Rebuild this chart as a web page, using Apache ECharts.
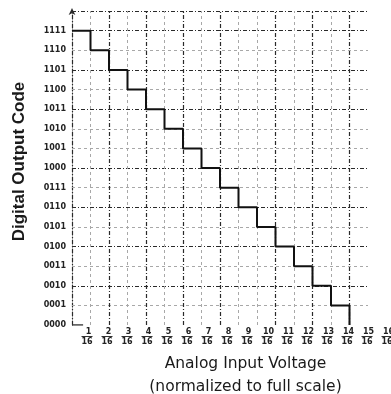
<!DOCTYPE html>
<html>
<head>
<meta charset="utf-8">
<script src="https://cdn.jsdelivr.net/npm/echarts@6/dist/echarts.min.js"></script>
<style>
  html, body { margin: 0; padding: 0; background: #fff; }
  #chart { width: 391px; height: 394px; }
</style>
</head>
<body>
<div id="chart"></div>
<script>
// staircase: output code held over each 1/16 input step
const inputSteps = [0, 1, 2, 3, 4, 5, 6, 7, 8, 9, 10, 11, 12, 13, 14, 15];
const outputCodes = [15, 14, 13, 12, 11, 10, 9, 8, 7, 6, 5, 4, 3, 2, 1, 0];
const originStub = [[0, 0], [0.6, 0]];

// tick labels
const codeLabels = ['0000', '0001', '0010', '0011', '0100', '0101', '0110', '0111',
  '1000', '1001', '1010', '1011', '1100', '1101', '1110', '1111'];
const voltageTicks = [1, 2, 3, 4, 5, 6, 7, 8, 9, 10, 11, 12, 13, 14, 15, 16];

const font = 'Arial, "Liberation Sans", sans-serif';
const wideFont = '"DejaVu Sans", sans-serif';
const darkLines = [2, 4, 6, 8, 11, 13, 15, 16];
const darkStyle = { color: '#2a2a2a', type: [4, 2, 1, 2], width: 1.2 };
const lightStyle = { color: '#a8a8a8', type: [3, 3], width: 1 };

const myChart = echarts.init(document.getElementById('chart'));

let gridLines = [];
for (let k = 1; k <= 16; k++) {
  gridLines.push([
    { coord: [0, k], lineStyle: darkLines.includes(k) ? darkStyle : lightStyle },
    { coord: [16, k] }
  ]);
}
for (let k = 1; k <= 15; k++) {
  gridLines.push([
    { coord: [k, 0], lineStyle: darkLines.includes(k) ? darkStyle : lightStyle },
    { coord: [k, 16] }
  ]);
}

let stepData = inputSteps.map((x, i) => [x, outputCodes[i]]);

let option = {
  backgroundColor: '#fff',
  animation: false,
  grid: { left: 72, right: 0, top: 11, bottom: 69, outerBoundsMode: 'none', containLabel: false },
  xAxis: [
    {
      // data axis, 1/16 per 18.5px
      type: 'value',
      min: 0,
      max: 17.243,
      show: false
    },
    {
      // label axis (labels in the source are spaced a bit wider than the grid)
      type: 'value',
      position: 'bottom',
      min: 0.25,
      max: 16.2,
      axisLine: { show: false },
      axisTick: { show: false },
      splitLine: { show: false },
      axisLabel: {
        customValues: voltageTicks,
        margin: 2,
        formatter: v => '{n|' + v + '}\n{b|}\n{d|16}',
        rich: {
          n: { fontSize: 8, lineHeight: 9, fontWeight: 'bold', color: '#222', fontFamily: wideFont, padding: [0, 0, 0, 3] },
          b: { width: 11, height: 1, lineHeight: 1, backgroundColor: '#333' },
          d: { fontSize: 8, lineHeight: 9, fontWeight: 'bold', color: '#222', fontFamily: wideFont }
        }
      },
      name: 'Analog Input Voltage\n(normalized to full scale)',
      nameLocation: 'middle',
      nameGap: 27,
      nameTextStyle: {
        fontSize: 15.5,
        lineHeight: 23,
        color: '#1a1a1a',
        fontFamily: wideFont,
        padding: [0, 0, 0, 28]
      }
    }
  ],
  yAxis: {
    type: 'value',
    min: 0,
    max: 16,
    interval: 1,
    axisLine: {
      show: true,
      symbol: ['none', 'arrow'],
      symbolSize: [5, 7],
      symbolOffset: [0, 3],
      lineStyle: { color: '#2a2a2a', type: [4, 2, 1, 2], width: 1.2 }
    },
    axisTick: { show: false },
    splitLine: { show: false },
    axisLabel: {
      margin: 6,
      fontSize: 8,
      fontWeight: 'bold',
      color: '#222',
      fontFamily: wideFont,
      padding: [0, 0, 6, 0],
      formatter: v => codeLabels[v] || ''
    },
    name: 'Digital Output Code',
    nameLocation: 'middle',
    nameGap: 44,
    nameTextStyle: {
      fontSize: 17,
      fontWeight: 'bold',
      color: '#1a1a1a',
      fontFamily: font,
      padding: [0, 0, 0, 13]
    }
  },
  series: [
    {
      type: 'line',
      xAxisIndex: 0,
      data: [],
      z: 1,
      silent: true,
      markLine: {
        silent: true,
        symbol: ['none', 'none'],
        label: { show: false },
        emphasis: { disabled: true },
        data: gridLines
      }
    },
    {
      type: 'line',
      xAxisIndex: 0,
      step: 'end',
      data: stepData,
      symbol: 'none',
      z: 5,
      lineStyle: { color: '#111', width: 2 }
    },
    {
      type: 'line',
      xAxisIndex: 0,
      data: originStub,
      symbol: 'none',
      z: 5,
      lineStyle: { color: '#333', width: 1.3 }
    }
  ]
};
myChart.setOption(option);
</script>
</body>
</html>
